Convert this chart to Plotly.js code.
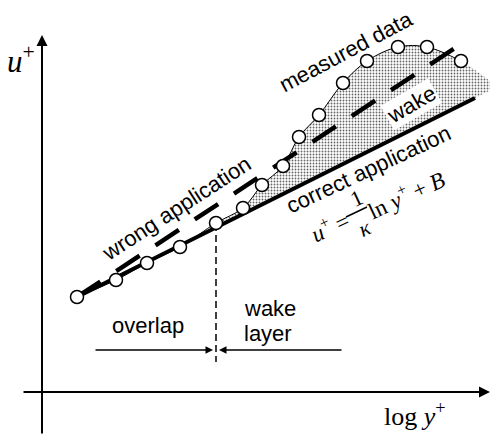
<!DOCTYPE html>
<html>
<head>
<meta charset="utf-8">
<script src="https://cdn.plot.ly/plotly-3.0.1.min.js"></script>
<style>html,body{margin:0;padding:0;background:#fff;}#chart{width:491px;height:435px;}</style>
</head>
<body>
<div id="chart"></div>
<script>
// Schematic units: x = log y+, y = u+ (arbitrary, origin at the axes crossing)
const measuredX = [35, 74, 105, 138, 174, 201, 220, 241, 257, 277, 301, 325, 356, 385, 419];
const measuredY = [95, 112, 129, 145, 169, 184, 207, 226, 255, 277, 309, 331, 345, 345, 331];

const correctX = [35, 433];
const correctY = [95, 294];

const wrongX = [35, 413];
const wrongY = [95, 344];

const shadeLowerX = [174, 448];
const shadeLowerY = [164.5, 301.5];
const shadeUpperX = [174, 201, 220, 241, 257, 277, 301, 325, 356, 385, 419, 448];
const shadeUpperY = [169, 184, 207, 226, 255, 277, 309, 331, 345, 345, 331, 311];

const boundaryX = [174, 174];
const boundaryY = [168, 30];

const overlapArrowX = [52, 171];
const wakeArrowX = [301, 177];
const rangeArrowY = 42;

const sans = 'Liberation Sans, Arial, sans-serif';
const serif = 'Liberation Serif, Times New Roman, serif';

const traces = [
  {x: shadeLowerX, y: shadeLowerY, mode: 'lines', line: {width: 0, color: 'rgba(0,0,0,0)'}, hoverinfo: 'skip'},
  {x: shadeUpperX, y: shadeUpperY, mode: 'lines', line: {width: 0, color: 'rgba(0,0,0,0)', shape: 'spline'},
   fill: 'tonexty', fillcolor: 'rgba(0,0,0,0)',
   fillpattern: {shape: '.', size: 3, solidity: 0.3, fgcolor: '#666', bgcolor: '#fff'}, hoverinfo: 'skip'},
  {x: boundaryX, y: boundaryY, mode: 'lines', line: {width: 1.5, color: '#000', dash: '7px,4px'}},
  {x: wrongX, y: wrongY, mode: 'lines', line: {width: 4.5, color: '#000', dash: '28px,19px'}},
  {x: correctX, y: correctY, mode: 'lines', line: {width: 4, color: '#000'}},
  {x: measuredX, y: measuredY, mode: 'lines+markers',
   line: {width: 1, color: '#000', shape: 'spline', smoothing: 1},
   marker: {size: 13, color: '#fff', line: {width: 1.5, color: '#000'}}}
];

function arrow(x, y, ax, ay, w, s) {
  return {x: x, y: y, ax: ax, ay: ay, xref: 'x', yref: 'y', axref: 'x', ayref: 'y',
          text: '', showarrow: true, arrowhead: 2, arrowsize: s, arrowwidth: w, arrowcolor: '#000', standoff: 0, startstandoff: 0};
}
function label(text, x, y, ang, font, size, extra) {
  return Object.assign({x: x, y: y, xref: 'x', yref: 'y', text: text, showarrow: false,
          textangle: ang, font: {family: font, size: size, color: '#000'}}, extra || {});
}

const annotations = [
  arrow(0, 357, 0, -43, 2, 1.1),
  arrow(448, 0, -20, 0, 2, 1.1),
  arrow(overlapArrowX[1], rangeArrowY, overlapArrowX[0], rangeArrowY, 1.5, 1),
  arrow(wakeArrowX[1], rangeArrowY, wakeArrowX[0], rangeArrowY, 1.5, 1),
  label('<i>u</i><sup>+</sup>', -21, 333, 0, serif, 31),
  label('log <i>y</i><sup>+</sup>', 373, -22, 0, serif, 26),
  label('overlap', 106, 67, 0, sans, 22),
  label('wake', 200, 84, 0, sans, 22, {xanchor: 'left'}),
  label('layer', 200, 59, 0, sans, 22, {xanchor: 'left'}),
  label('wrong application', 134, 184, -33, sans, 22),
  label('measured data', 304, 341, -28, sans, 22),
  label('wake', 369, 288, -30, sans, 22, {bgcolor: '#fff'}),
  label('correct application', 326, 223, -25, sans, 22),
  label('<i>u</i><sup>+</sup> =', 287, 166, -25, serif, 23),
  label('1', 314, 194, -25, serif, 22),
  label('<i>κ</i>', 322, 164, -25, serif, 22),
  label('ln <i>y</i><sup>+</sup> + <i>B</i>', 363, 198, -25, serif, 23)
];

const shapes = [
  {type: 'line', xref: 'x', yref: 'y', x0: 304, y0: 175, x1: 325, y1: 185, line: {width: 1.5, color: '#000'}}
];

const layout = {
  width: 491, height: 435,
  margin: {l: 0, r: 0, t: 0, b: 0},
  paper_bgcolor: '#fff', plot_bgcolor: '#fff',
  showlegend: false,
  xaxis: {range: [-42, 449], visible: false, fixedrange: true},
  yaxis: {range: [-43, 392], visible: false, fixedrange: true},
  annotations: annotations,
  shapes: shapes
};

Plotly.newPlot('chart', traces, layout, {staticPlot: true});
</script>
</body>
</html>
